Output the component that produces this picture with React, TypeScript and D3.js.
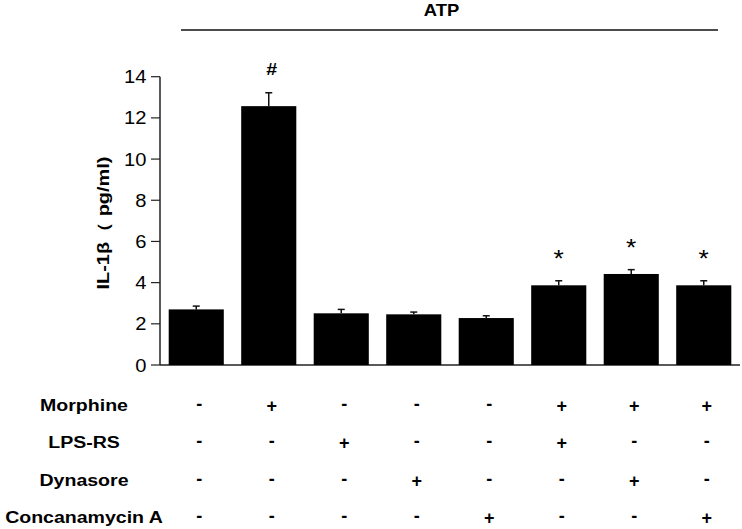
import React from "react";
import * as d3 from "d3";

const groups = ["G1", "G2", "G3", "G4", "G5", "G6", "G7", "G8"];
const means = [2.7, 12.57, 2.51, 2.46, 2.28, 3.87, 4.42, 3.87];
const sems = [0.16, 0.65, 0.19, 0.11, 0.11, 0.22, 0.21, 0.22];
const marks = ["", "#", "", "", "", "*", "*", "*"];
const yTicks = [0, 2, 4, 6, 8, 10, 12, 14];
const treatments = ["Morphine", "LPS-RS", "Dynasore", "Concanamycin A"];
const morphine = ["-", "+", "-", "-", "-", "+", "+", "+"];
const lpsrs = ["-", "-", "+", "-", "-", "+", "-", "-"];
const dynasore = ["-", "-", "-", "+", "-", "-", "+", "-"];
const concanamycin = ["-", "-", "-", "-", "+", "-", "-", "+"];
const signRows = [morphine, lpsrs, dynasore, concanamycin];

const FONT = "'Liberation Sans', Arial, sans-serif";
const SX = 1.15;

export default function App() {
  const x = d3
    .scaleBand<string>()
    .domain(groups)
    .range([160, 740])
    .paddingInner(0.24)
    .paddingOuter(0.12);
  const y = d3.scaleLinear().domain([0, 14]).range([365, 76.7]);
  const bw = x.bandwidth();
  const rowY = d3.scalePoint<string>().domain(treatments).range([405, 517]);

  const T = (
    tx: number,
    ty: number,
    txt: string,
    opts: { size?: number; weight?: string | number; anchor?: string; sx?: number } = {}
  ) => (
    <text
      transform={`translate(${tx},${ty}) scale(${opts.sx ?? SX},1)`}
      fontFamily={FONT}
      fontSize={opts.size ?? 17}
      fontWeight={opts.weight ?? "normal"}
      textAnchor={opts.anchor ?? "middle"}
      fill="#000"
    >
      {txt}
    </text>
  );

  return (
    <svg
      width={742}
      height={529}
      style={{ position: "absolute", left: 0, top: 0, background: "#fff" }}
    >
      <rect width={742} height={529} fill="#fff" />
      {/* ATP header */}
      {T(441.5, 15.5, "ATP", { size: 16, weight: "bold" })}
      <line x1={181} x2={718} y1={30} y2={30} stroke="#111" strokeWidth={1.5} />

      {/* Y axis */}
      <line x1={160} x2={160} y1={y(14)} y2={y(0)} stroke="#222" strokeWidth={1.5} />
      {yTicks.map((t) => (
        <g key={t}>
          <line x1={151} x2={160} y1={y(t)} y2={y(t)} stroke="#222" strokeWidth={1.2} />
          {T(146.5, y(t) + 6.5, String(t), { size: 18, anchor: "end", sx: 1.12 })}
        </g>
      ))}
      <text
        transform={`translate(109,223) rotate(-90)`}
        fontFamily={FONT}
        fontSize={16}
        fontWeight="bold"
        textAnchor="middle"
        textLength={133}
        lengthAdjust="spacingAndGlyphs"
      >
        IL-1β（ pg/ml)
      </text>

      {/* X axis */}
      <line x1={160} x2={740} y1={y(0)} y2={y(0)} stroke="#222" strokeWidth={1.5} />

      {/* Bars */}
      {groups.map((g, i) => {
        const x0 = x(g)!;
        const cx = x0 + bw / 2;
        const top = y(means[i] + sems[i]);
        return (
          <g key={g}>
            <line x1={cx} x2={cx} y1={y(means[i])} y2={top} stroke="#111" strokeWidth={1.5} />
            <line x1={cx - 3.5} x2={cx + 3.5} y1={top} y2={top} stroke="#111" strokeWidth={1.5} />
            <rect x={x0} y={y(means[i])} width={bw} height={y(0) - y(means[i])} fill="#000" />
            {marks[i] === "#" && T(cx + 3, top - 24 + 6, "#", { size: 17, weight: "bold" })}
            {marks[i] === "*" && T(cx, top - 27 + 13, "*", { size: 24, sx: 1.1 })}
          </g>
        );
      })}

      {/* Treatment table */}
      {treatments.map((name, r) => (
        <g key={name}>
          {T(84, rowY(name)! + 6, name, { size: 17, weight: "bold" })}
          {signRows[r].map((s, i) => {
            const cx = x(groups[i])! + bw / 2 + 3;
            return (
              <g key={i}>{T(cx, rowY(name)! + (s === "+" ? 7 : 5), s, { size: 18, weight: "bold", sx: 1 })}</g>
            );
          })}
        </g>
      ))}
    </svg>
  );
}
